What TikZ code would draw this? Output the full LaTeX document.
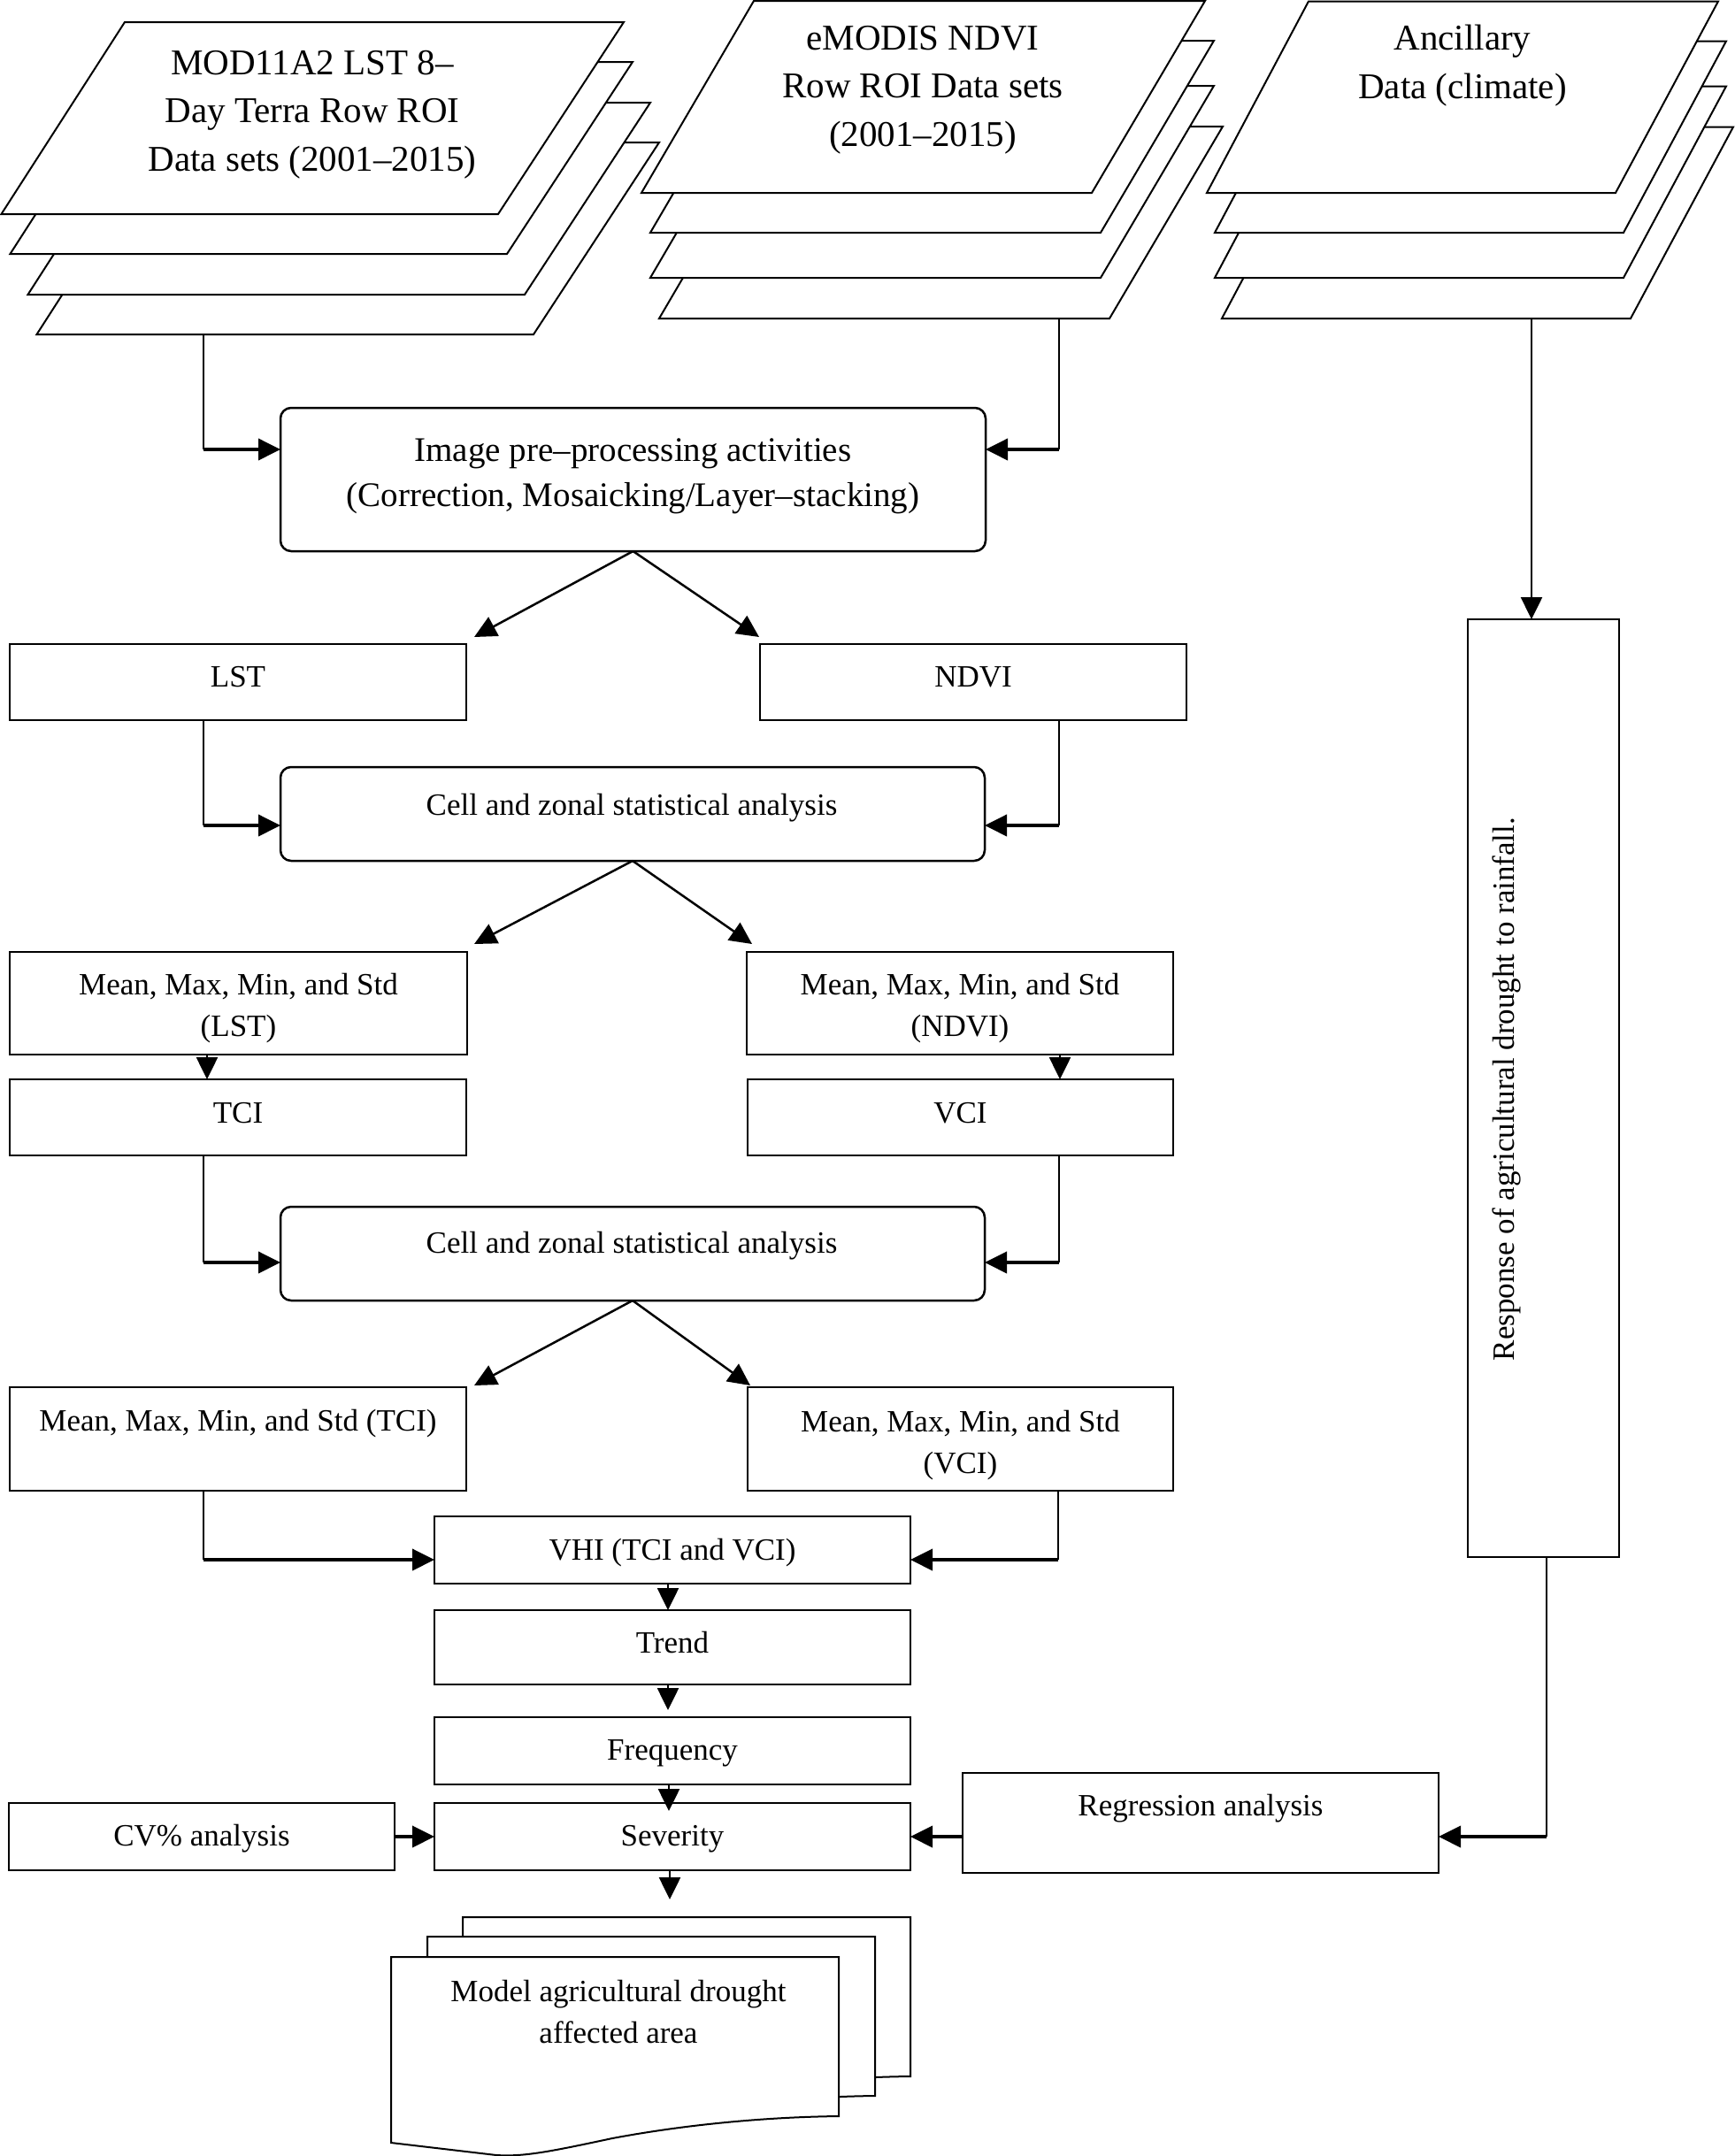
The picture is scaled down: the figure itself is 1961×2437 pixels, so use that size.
\documentclass[tikz,border=0pt]{standalone}
\usepackage{fontspec}
\setmainfont{Liberation Serif}
\usetikzlibrary{arrows.meta,calc}
\begin{document}
\begin{tikzpicture}[x=1pt,y=-1pt,
  every node/.style={font=\fontsize{35}{47}\selectfont, align=center, inner sep=0pt, outer sep=0pt},
  lay/.style={draw, line width=2pt, fill=white, line join=miter},
  box/.style={draw, line width=2.5pt, rectangle},
  rbox/.style={box, rounded corners=12pt},
  big/.style={font=\fontsize{41}{54.5}\selectfont},
  conn/.style={line width=2.5pt},
  arr/.style={line width=2.5pt, -{Triangle[length=25pt,width=24pt]}},
  harr/.style={line width=3.8pt, -{Triangle[length=25pt,width=24pt]}}
]
\useasboundingbox (0,0) rectangle (1961,2437);

% ---- stacked data layers ----
\foreach \dx/\dy in {40/136,30/91,10/45,0/0}
  \draw[lay, shift={(\dx,\dy)}] (141,25) -- (705,25) -- (563,242) -- (1.5,242) -- cycle;
\foreach \dx/\dy in {20/142,10/96,10/45,0/0}
  \draw[lay, shift={(\dx,\dy)}] (852,1) -- (1362,1) -- (1234,218) -- (725,218) -- cycle;
\foreach \dx/\dy in {17/142,9/96,9/45,0/0}
  \draw[lay, shift={(\dx,\dy)}] (1479,1.5) -- (1942,1.5) -- (1826,218) -- (1364,218) -- cycle;

\node[big] (g1t) at (353,129.5) {MOD11A2 LST 8–\\Day Terra Row ROI\\Data sets (2001–2015)};
\node[big] (g2t) at (1043,101.5) {eMODIS NDVI\\Row ROI Data sets\\(2001–2015)};
\node[big] (g3t) at (1653,74) {Ancillary\\Data (climate)};

\coordinate (g1out) at (230,378);
\coordinate (g2out) at (1197,360);
\coordinate (g3out) at (1731,360);

% ---- output document stack ----
\foreach \dx/\dy in {81/-45,41/-23,0/0}
  \draw[lay, shift={(442+\dx,2212+\dy)}] (0,0) -- (506,0) -- (506,180)
     .. controls (420,181) and (330,190) .. (250,205)
     .. controls (180,220) and (150,226) .. (119,224) -- (0,210) -- cycle;
\node (doct) at (699,2273.5) {Model agricultural drought\\affected area};
\coordinate (doctip) at (757,2147);

% ---- process boxes ----
\node[rbox, minimum width=797pt, minimum height=162pt] (image) at (715.5,542) {};
\node[font=\fontsize{39}{51}\selectfont] (imageT) at (715.5,538)
  {Image pre–processing activities\\(Correction, Mosaicking/Layer–stacking)};
\node[box, minimum width=516pt, minimum height=86pt] (lst) at (269,771) {};
\node (lstT) at (269,765) {LST};
\node[box, minimum width=482pt, minimum height=86pt] (ndvi) at (1100,771) {};
\node (ndviT) at (1100,765) {NDVI};
\node[rbox, minimum width=796pt, minimum height=106pt] (cell1) at (715,920) {};
\node (cell1T) at (714,913) {Cell and zonal statistical analysis};
\node[box, minimum width=517pt, minimum height=116pt] (mlst) at (269.5,1134) {};
\node (mlstT) at (269.5,1140) {Mean, Max, Min, and Std\\(LST)};
\node[box, minimum width=482pt, minimum height=116pt] (mndvi) at (1085,1134) {};
\node (mndviT) at (1085,1140) {Mean, Max, Min, and Std\\(NDVI)};
\node[box, minimum width=516pt, minimum height=86pt] (tci) at (269,1263) {};
\node (tciT) at (269,1258) {TCI};
\node[box, minimum width=481pt, minimum height=86pt] (vci) at (1085.5,1263) {};
\node (vciT) at (1085.5,1258) {VCI};
\node[rbox, minimum width=796pt, minimum height=106pt] (cell2) at (715,1417) {};
\node (cell2T) at (714,1408) {Cell and zonal statistical analysis};
\node[box, minimum width=516pt, minimum height=117pt] (mtci) at (269,1626.5) {};
\node (mtciT) at (269,1609) {Mean, Max, Min, and Std (TCI)};
\node[box, minimum width=481pt, minimum height=117pt] (mvci) at (1085.5,1626.5) {};
\node (mvciT) at (1085.5,1633.5) {Mean, Max, Min, and Std\\(VCI)};
\node[box, minimum width=538pt, minimum height=76pt] (vhi) at (760,1752) {};
\node (vhiT) at (760,1755) {VHI (TCI and VCI)};
\node[box, minimum width=538pt, minimum height=84pt] (trend) at (760,1862) {};
\node (trendT) at (760,1857) {Trend};
\node[box, minimum width=538pt, minimum height=76pt] (freq) at (760,1979) {};
\node (freqT) at (760,1982) {Frequency};
\node[box, minimum width=538pt, minimum height=76pt] (sev) at (760,2076) {};
\node (sevT) at (760,2079) {Severity};
\node[box, minimum width=436pt, minimum height=76pt] (cv) at (228,2076) {};
\node (cvT) at (228,2078) {CV\% analysis};
\node[box, minimum width=538pt, minimum height=113pt] (reg) at (1357,2060.5) {};
\node (regT) at (1357,2044) {Regression analysis};
\node[box, minimum width=171pt, minimum height=1060pt] (resp) at (1744.5,1230) {};
\node[rotate=90] (respT) at (1703,1231) {Response of agricultural drought to rainfall.};

% ---- connectors ----
\coordinate (c1) at (g1out |- {$(image.north west)+(0,47)$});
\coordinate (c2) at (g2out |- {$(image.north east)+(0,47)$});
\draw[conn] (g1out) -- (c1);
\draw[harr] (c1) -- (c1 -| image.west);
\draw[conn] (g2out) -- (c2);
\draw[harr] (c2) -- (c2 -| image.east);
\draw[arr] (g3out) -- (g3out |- resp.north);

\draw[arr] (image.south) -- ($(lst.north east)+(9,-8)$);
\draw[arr] (image.south) -- ($(ndvi.north west)+(-1,-8)$);
\coordinate (c3) at ($(lst.south west)+(219,0)$);
\coordinate (c4) at ($(ndvi.south west)+(338,0)$);
\coordinate (c5) at (c3 |- {$(cell1.north west)+(0,66)$});
\coordinate (c6) at (c4 |- {$(cell1.north east)+(0,66)$});
\draw[conn] (c3) -- (c5);
\draw[harr] (c5) -- (c5 -| cell1.west);
\draw[conn] (c4) -- (c6);
\draw[harr] (c6) -- (c6 -| cell1.east);

\draw[arr] (cell1.south) -- ($(mlst.north east)+(8,-9)$);
\draw[arr] (cell1.south) -- ($(mndvi.north west)+(6,-9)$);
\draw[arr] ($(mlst.south west)+(223,0)$) -- ($(tci.north west)+(223,0)$);
\draw[arr] ($(mndvi.south west)+(354,0)$) -- ($(vci.north west)+(353,0)$);
\coordinate (c7) at ($(tci.south west)+(219,0)$);
\coordinate (c8) at ($(vci.south west)+(352,0)$);
\coordinate (c9) at (c7 |- {$(cell2.north west)+(0,63)$});
\coordinate (c10) at (c8 |- {$(cell2.north east)+(0,63)$});
\draw[conn] (c7) -- (c9);
\draw[harr] (c9) -- (c9 -| cell2.west);
\draw[conn] (c8) -- (c10);
\draw[harr] (c10) -- (c10 -| cell2.east);

\draw[arr] (cell2.south) -- ($(mtci.north east)+(9,-2)$);
\draw[arr] (cell2.south) -- ($(mvci.north west)+(3,-2)$);
\coordinate (c11) at ($(mtci.south west)+(219,0)$);
\coordinate (c12) at ($(mvci.south west)+(351,0)$);
\coordinate (c13) at (c11 |- {$(vhi.north west)+(0,49)$});
\coordinate (c14) at (c12 |- {$(vhi.north east)+(0,49)$});
\draw[conn] (c11) -- (c13);
\draw[harr] (c13) -- (c13 -| vhi.west);
\draw[conn] (c12) -- (c14);
\draw[harr] (c14) -- (c14 -| vhi.east);

\draw[arr] ($(vhi.south west)+(264,0)$) -- ($(trend.north west)+(264,0)$);
\draw[arr] ($(trend.south west)+(264,0)$) -- ($(freq.north west)+(264,-8)$);
\draw[arr] ($(freq.south west)+(265,0)$) -- ($(sev.north west)+(265,9)$);
\draw[harr] (cv.east) -- (sev.west);
\draw[harr] (reg.west |- sev.east) -- (sev.east);
\coordinate (c15) at ($(resp.south west)+(89,0)$);
\coordinate (c16) at (c15 |- sev.east);
\draw[conn] (c15) -- (c16);
\draw[harr] (c16) -- (c16 -| reg.east);
\draw[arr] (doctip |- sev.south) -- (doctip);
\end{tikzpicture}
\end{document}
